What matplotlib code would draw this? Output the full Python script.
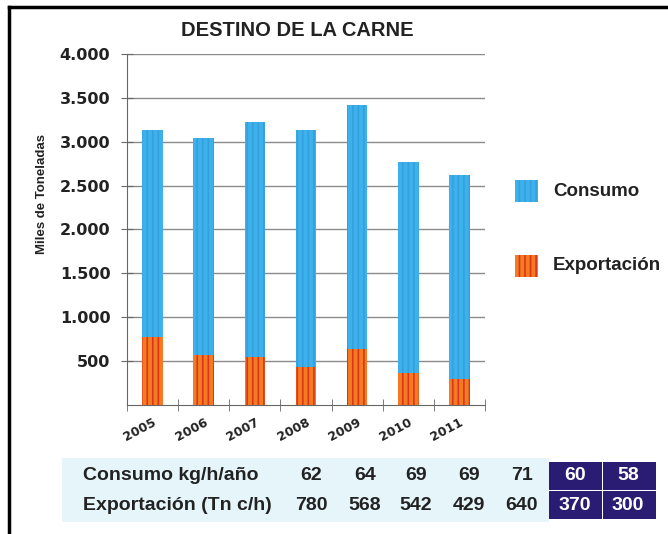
import matplotlib
matplotlib.use('Agg')
import matplotlib.pyplot as plt
from matplotlib.patches import Rectangle
from matplotlib.lines import Line2D

# Data (miles de toneladas)
years = ['2005', '2006', '2007', '2008', '2009', '2010', '2011']
consumo_miles = [2350, 2470, 2680, 2700, 2780, 2400, 2320]
export_miles = [780, 568, 542, 429, 640, 370, 300]

# Table under the chart
consumo_kg = ['62', '64', '69', '69', '71', '60', '58']
export_tn = ['780', '568', '542', '429', '640', '370', '300']
row_labels = ['Consumo kg/h/año', 'Exportación (Tn c/h)']

yticks = [500, 1000, 1500, 2000, 2500, 3000, 3500, 4000]
ytick_labels = ['500', '1.000', '1.500', '2.000', '2.500', '3.000', '3.500', '4.000']

W, H = 668, 534
plt.rcParams['font.family'] = ['Liberation Sans', 'DejaVu Sans']
plt.rcParams['hatch.linewidth'] = 1.2

fig = plt.figure(figsize=(W / 100, H / 100), dpi=100)
ax = fig.add_axes([127 / W, 1 - 405 / H, (485 - 127) / W, (405 - 54) / H])

blue = '#3cb1ec'
orange = '#f47b22'
x = list(range(len(years)))
ax.bar(x, export_miles, width=0.40, color=orange, edgecolor='#d9371c',
       hatch='|||', linewidth=0, zorder=3)
ax.bar(x, consumo_miles, width=0.40, bottom=export_miles, color=blue,
       edgecolor='#35a0dc', hatch='|||', linewidth=0, zorder=3)

ax.set_xlim(-0.5, 6.5)
ax.set_ylim(0, 4000)
ax.set_yticks(yticks)
ax.set_yticklabels(ytick_labels, fontsize=11.5, fontweight='bold',
                   family=['DejaVu Sans'], color='#222222')
ax.set_xticks(x)
ax.set_xticklabels(years, rotation=28, fontsize=9, fontweight='bold',
                   family=['DejaVu Sans'], color='#222222', ha='right',
                   rotation_mode='anchor')
ax.set_xticks([i - 0.5 for i in range(len(years) + 1)], minor=True)
ax.tick_params(axis='x', which='major', length=0, pad=8)
ax.tick_params(axis='x', which='minor', length=8, direction='inout', color='#666666')
ax.tick_params(axis='y', length=8, direction='inout', color='#666666', pad=8)
ax.yaxis.grid(True, color='#8a8a8a', linewidth=1.0, zorder=0)
ax.set_axisbelow(True)
for s in ['top', 'right']:
    ax.spines[s].set_visible(False)
ax.spines['left'].set_color('#666666')
ax.spines['bottom'].set_color('#666666')
ax.set_ylabel('Miles de Toneladas', fontsize=9.5, fontweight='bold', color='#222222')
ax.yaxis.set_label_coords(-0.222, 0.6)

fig.text(297 / W, 1 - 31 / H, 'DESTINO DE LA CARNE', ha='center', va='center',
         fontsize=14.5, fontweight='bold', color='#222222')

# Legend
for py, col, edge, lab in [(191, blue, '#35a0dc', 'Consumo'),
                           (266, orange, '#d9371c', 'Exportación')]:
    fig.patches.append(Rectangle((515 / W, 1 - (py + 11) / H), 23 / W, 22 / H,
                                 transform=fig.transFigure, facecolor=col,
                                 edgecolor=edge, hatch='|||', linewidth=0))
    fig.text(553 / W, 1 - py / H, lab, ha='left', va='center', fontsize=13.5,
             fontweight='bold', color='#222222')

# Table
fig.patches.append(Rectangle((62 / W, 1 - 522 / H), 487 / W, 64 / H,
                             transform=fig.transFigure, facecolor='#e6f5fa',
                             edgecolor='none', zorder=0))
col_x = [311, 365, 416, 469, 522, 575, 628]
row_y = [476, 505]
for r, (lab, vals) in enumerate(zip(row_labels, [consumo_kg, export_tn])):
    fig.text(83 / W, 1 - row_y[r] / H, lab, ha='left', va='center',
             fontsize=14, fontweight='bold', color='#222222')
    for c, v in enumerate(vals):
        dark = c >= 5
        if dark:
            fig.patches.append(Rectangle(((549 + (c - 5) * 54) / W, 1 - (row_y[r] + 13.5) / H),
                                         53 / W, 27.5 / H, transform=fig.transFigure,
                                         facecolor='#2a1c72', edgecolor='none'))
        fig.text(col_x[c] / W, 1 - row_y[r] / H, v, ha='center', va='center',
                 fontsize=14, fontweight='bold',
                 color='white' if dark else '#222222')

# Outer frame (only top and left visible)
fig.add_artist(Line2D([9 / W, 9 / W], [0, 1 - 7 / H], transform=fig.transFigure,
                      color='black', linewidth=2.5))
fig.add_artist(Line2D([9 / W, 1], [1 - 7 / H, 1 - 7 / H], transform=fig.transFigure,
                      color='black', linewidth=2.5))

fig.savefig('out.png', dpi=100)
